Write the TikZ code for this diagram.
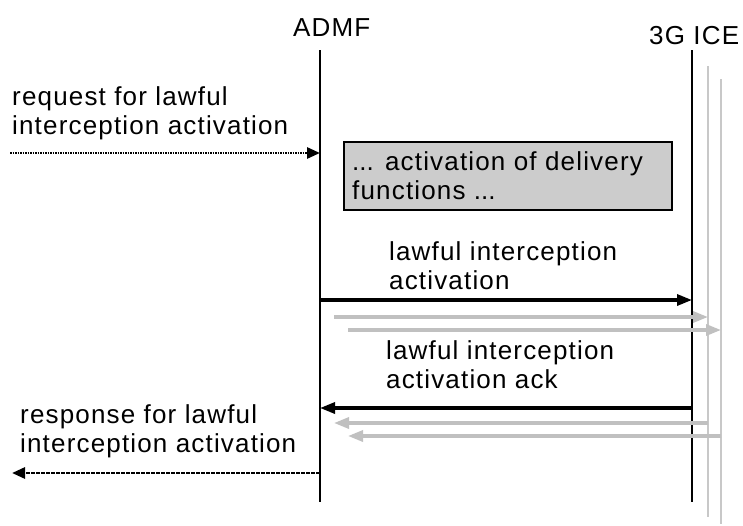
\documentclass[tikz,border=0pt]{standalone}
\usepackage{fontspec}
\setmainfont{Liberation Sans}[LetterSpace=4.5]
\usetikzlibrary{arrows.meta}
\definecolor{lgrey}{HTML}{C0C0C0}
\definecolor{lifegrey}{HTML}{C8C8C8}
\definecolor{boxgrey}{HTML}{CCCCCC}
\begin{document}
\begin{tikzpicture}[x=1pt,y=-1pt,
  lbl/.style={font=\fontsize{26}{29.5}\selectfont, inner sep=0pt, anchor=base west, align=left},
  lifeline/.style={line width=2.2pt, black},
  greyline/.style={line width=1.5pt, lifegrey},
  msg/.style={line width=3.2pt, black, -{Triangle[length=15pt,width=11pt]}},
  greymsg/.style={line width=3.2pt, lgrey, -{Triangle[length=15pt,width=11pt]}},
  dotmsg/.style={line width=2.8pt, black, dash pattern=on 1.6pt off 0.9pt, -{Triangle[length=13pt,width=11pt]}},
  actbox/.style={draw=black, line width=2.4pt, fill=boxgrey}]
\useasboundingbox (0,0) rectangle (743,525);
% lifelines
\coordinate (a0) at (320,50);  \coordinate (a1) at (320,502);
\coordinate (b0) at (692,50);  \coordinate (b1) at (692,502);
\coordinate (g0) at (708,66);  \coordinate (g1) at (708,517);
\coordinate (h0) at (721,79);  \coordinate (h1) at (721,524);
\draw[greyline] (g0) -- (g1);
\draw[greyline] (h0) -- (h1);
\draw[lifeline] (a0) -- (a1);
\draw[lifeline] (b0) -- (b1);
% headers
\node[lbl] (admf) at (293,36) {ADMF};
\node[lbl] (ice) at (649,44) {3G ICE};
% request
\node[lbl] (req) at (12,134.5) {request for lawful\\interception activation};
\coordinate (r0) at (10,153); \coordinate (r1) at (320,153);
\draw[dotmsg] (r0) -- (r1);
% box
\node[actbox, minimum width=328pt, minimum height=68pt, anchor=north west, inner sep=0pt] (box) at (343,141) {};
\node[lbl] (boxtxt) at (352,199.5) {.\kern0pt.\kern0pt. activation of delivery\\functions .\kern0pt.\kern0pt.};
% forward
\node[lbl] (lia) at (389,289.5) {lawful interception\\activation};
\coordinate (f0) at (320,300); \coordinate (f1) at (692,300);
\draw[msg] (f0) -- (f1);
\coordinate (f2) at (334,317); \coordinate (f3) at (708,317);
\draw[greymsg] (f2) -- (f3);
\coordinate (f4) at (348,330); \coordinate (f5) at (721,330);
\draw[greymsg] (f4) -- (f5);
% back
\node[lbl] (liack) at (386,388.5) {lawful interception\\activation ack};
\coordinate (k0) at (692,408); \coordinate (k1) at (320,408);
\draw[msg] (k0) -- (k1);
\coordinate (k2) at (708,423); \coordinate (k3) at (334,423);
\draw[greymsg] (k2) -- (k3);
\coordinate (k4) at (721,436); \coordinate (k5) at (348,436);
\draw[greymsg] (k4) -- (k5);
% response
\node[lbl] (resp) at (20,452.5) {response for lawful\\interception activation};
\coordinate (s0) at (320,473); \coordinate (s1) at (12,473);
\draw[dotmsg] (s0) -- (s1);
\end{tikzpicture}
\end{document}
